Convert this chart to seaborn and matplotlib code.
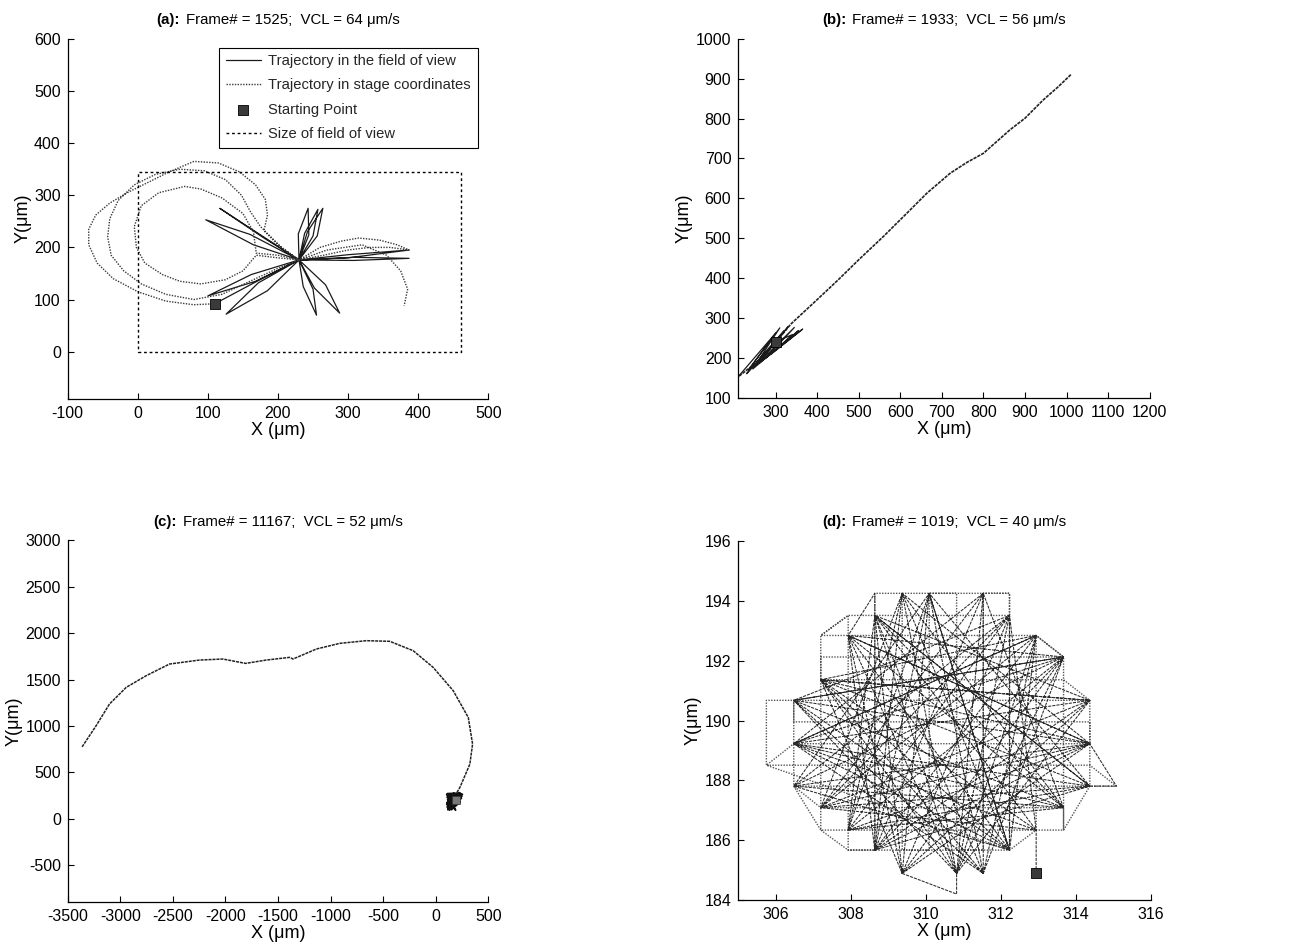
import numpy as np
import pandas as pd
import seaborn as sns
import matplotlib.pyplot as plt
from matplotlib.offsetbox import TextArea, HPacker, AnchoredOffsetbox

# ---------------- data ----------------
# (a) trajectory in the field of view (solid star of petals)
a_fov_x = [110, 170, 230, 165, 97, 160, 230, 180, 117, 166, 230, 244, 243, 229, 230,
           250, 257, 238, 230, 256, 264, 242, 230, 308, 387, 308, 230, 300, 387, 300,
           230, 252, 288, 268, 230, 236, 255, 250, 230, 185, 126, 172, 230, 168, 100, 162, 230]
a_fov_y = [92, 135, 176, 205, 253, 225, 176, 218, 275, 232, 176, 224, 275, 226, 176,
           222, 273, 227, 176, 222, 275, 230, 176, 175, 179, 181, 176, 186, 195, 180,
           176, 122, 74, 128, 176, 125, 70, 120, 176, 117, 72, 132, 176, 135, 107, 148, 176]

# (a) trajectory in stage coordinates (dotted loops)
a_stage_x = [110, 80, 40, 0, -35, -58, -70, -70, -60, -40, -15, 15, 45, 80, 115, 145, 168,
             182, 185, 180, 200, 230, 260, 290, 315, 345, 370, 387, 360, 330, 300, 265, 230,
             205, 175, 160, 148, 125, 95, 60, 25, -5, -28, -40, -43, -38, -20, 5, 40, 80,
             120, 160, 200, 230, 200, 169, 165, 150, 120, 90, 67, 30, 5, -5, -2, 10, 35, 60,
             90, 125, 150, 169, 200, 230, 270, 320, 355, 375, 385, 380]
a_stage_y = [92, 90, 97, 115, 140, 170, 205, 235, 262, 285, 305, 325, 345, 365, 362, 345, 320,
             292, 262, 232, 205, 176, 200, 212, 218, 214, 205, 195, 200, 200, 195, 185, 176,
             200, 240, 270, 300, 330, 347, 350, 340, 320, 290, 255, 220, 185, 155, 130, 110, 100,
             110, 135, 160, 176, 185, 189, 230, 265, 295, 312, 317, 305, 280, 240, 200, 170, 148, 135,
             130, 138, 155, 185, 180, 176, 195, 205, 185, 155, 120, 88]
a_start = (110, 92)
fov_w, fov_h = 460.8, 345.6

# (b)
b_stage_x = [212, 250, 290, 336, 400, 450, 500, 560, 616, 664, 720, 760, 800, 864, 900, 944, 980, 1012]
b_stage_y = [154, 185, 225, 284, 346, 395, 446, 505, 563, 613, 663, 690, 713, 772, 801, 847, 880, 912]
b_fov_x = [212, 300, 235, 310, 250, 330, 262, 345, 275, 365, 290, 340, 300, 230, 320, 245, 355, 260]
b_fov_y = [155, 262, 170, 275, 180, 278, 190, 276, 198, 272, 210, 258, 240, 160, 268, 172, 268, 186]
b_start = (300, 240)

# (c)
c_stage_x = [-3363, -3230, -3103, -2944, -2754, -2532, -2246, -2024, -1808, -1611, -1389, -1357,
             -1135, -913, -659, -437, -214, -24, 167, 310, 351, 325, 230, 183]
c_stage_y = [774, 1001, 1235, 1415, 1541, 1667, 1710, 1721, 1674, 1710, 1739, 1721,
             1829, 1890, 1919, 1912, 1811, 1631, 1379, 1091, 803, 587, 335, 245]
c_fov_x = [183, 110, 235, 108, 245, 115, 200, 108, 240, 118, 180, 112, 230, 125, 255, 118, 175, 140,
           105, 250, 112, 190, 104, 235, 150, 225, 110, 170, 245, 130, 190]
c_fov_y = [245, 270, 275, 230, 265, 95, 270, 170, 230, 105, 255, 130, 270, 100, 262, 250, 110, 265,
           150, 240, 210, 90, 260, 180, 95, 280, 120, 275, 220, 90, 205]
c_start = (190, 205)

# (d) rim points of the circular wandering and the order the chords visit them
d_rim_x = [310.09, 311.53, 312.23, 312.94, 313.67, 314.37, 314.37, 314.37, 313.67, 312.94, 312.23, 311.53,
           310.82, 309.37, 308.64, 307.93, 307.20, 306.48, 306.48, 306.48, 307.20, 307.93, 308.64, 309.37]
d_rim_y = [194.26, 194.26, 193.52, 192.85, 192.13, 190.68, 189.23, 187.81, 187.09, 186.34, 185.67, 184.89,
           184.89, 184.89, 185.67, 186.34, 187.09, 187.81, 189.23, 190.68, 191.37, 192.85, 193.52, 194.26]
d_order = [9, 18, 3, 12, 21, 6, 15, 0, 10, 19, 4, 13, 22, 7, 16, 1, 11, 20, 5, 14, 23, 8, 17, 2,
           9, 16, 23, 6, 13, 20, 3, 10, 17, 0, 7, 14, 21, 4, 11, 18, 1, 8, 15, 22, 5, 12, 19, 2,
           12, 22, 8, 18, 4, 14, 0, 10, 20, 6, 16, 2,
           13, 0, 11, 22, 9, 20, 7, 18, 5, 16, 3, 14, 1, 12, 23, 10, 21, 8, 19, 6, 17, 4, 15, 2,
           10, 18, 3, 11, 19, 4, 12, 20, 5, 13, 21, 6, 14, 22, 7, 15, 23]
d_start = (312.94, 184.89)
d_spike_x = [310.82, 315.08, 308.64]
d_spike_y = [184.2, 187.81, 194.26]

# (d) stage coordinates: rectilinear rows and columns on the 0.72 um grid
d_row_y = [194.26, 193.52, 192.85, 192.13, 191.37, 190.68, 189.96, 189.23, 188.51, 187.81, 187.09, 186.34, 185.67]
d_row_x0 = [309.37, 307.93, 307.20, 307.20, 307.20, 306.48, 306.48, 306.48, 305.75, 306.48, 307.20, 307.20, 307.93]
d_row_x1 = [312.23, 312.23, 312.94, 313.67, 313.67, 314.37, 314.37, 314.37, 314.37, 315.08, 313.67, 313.67, 312.23]
d_col_x = [305.75, 306.48, 307.20, 307.93, 308.64, 309.37, 310.09, 310.82, 311.53, 312.23, 312.94, 313.67, 314.37]
d_col_y0 = [188.51, 187.81, 186.34, 185.67, 185.67, 185.67, 185.67, 185.67, 185.67, 185.67, 186.34, 186.34, 187.81]
d_col_y1 = [190.68, 190.68, 192.85, 193.52, 194.26, 194.26, 194.26, 194.26, 194.26, 194.26, 192.85, 192.13, 190.68]

titles = ['(a):', '(b):', '(c):', '(d):']
frames = [1525, 1933, 11167, 1019]
vcl = [64, 56, 52, 40]

# ---------------- style ----------------
sns.set_theme(style='ticks')
plt.rcParams['font.family'] = ['Liberation Sans', 'DejaVu Sans']
plt.rcParams['axes.unicode_minus'] = False

fov_kw = dict(color='#1a1a1a', linewidth=0.9, sort=False, estimator=None)
stage_kw = dict(color='#3a3a3a', linewidth=1.0, linestyle=(0, (1, 1)), sort=False, estimator=None)
start_kw = dict(marker='s', s=55, color='#3a3a3a', edgecolor='black', linewidth=0.6, zorder=5)

fig = plt.figure(figsize=(13.02, 9.49), dpi=100)
axa = fig.add_axes([0.052, 0.580, 0.323, 0.379])
axb = fig.add_axes([0.567, 0.581, 0.316, 0.378])
axc = fig.add_axes([0.052, 0.0495, 0.323, 0.381])
axd = fig.add_axes([0.567, 0.0516, 0.317, 0.378])

# (a)
sns.lineplot(x=a_fov_x, y=a_fov_y, ax=axa, label='Trajectory in the field of view', **fov_kw)
sns.lineplot(x=a_stage_x, y=a_stage_y, ax=axa, label='Trajectory in stage coordinates', **stage_kw)
sns.scatterplot(x=[a_start[0]], y=[a_start[1]], ax=axa, label='Starting Point', **start_kw)
rect = pd.DataFrame({'x': [0, fov_w, fov_w, 0, 0], 'y': [0, 0, fov_h, fov_h, 0]})
sns.lineplot(data=rect, x='x', y='y', ax=axa, color='black', linewidth=1.0,
             linestyle=(0, (2, 2)), sort=False, estimator=None, label='Size of field of view')
axa.set_xlim(-100, 500)
axa.set_ylim(-90, 600)
axa.set_xticks(range(-100, 501, 100))
axa.set_yticks(range(0, 601, 100))
leg = axa.legend(loc='upper right', bbox_to_anchor=(0.975, 0.976), fontsize=10.6, frameon=True,
                 fancybox=False, edgecolor='black', framealpha=1, borderpad=0.45, labelspacing=0.7,
                 handlelength=2.4, handletextpad=0.5, borderaxespad=0)
leg.get_frame().set_linewidth(0.8)

# (b)
sns.lineplot(x=b_stage_x, y=b_stage_y, ax=axb, color='#222222', linewidth=1.2,
             linestyle=(0, (2, 0.6)), sort=False, estimator=None)
sns.lineplot(x=b_fov_x, y=b_fov_y, ax=axb, **fov_kw)
sns.scatterplot(x=[b_start[0]], y=[b_start[1]], ax=axb, **start_kw)
axb.set_xlim(210, 1200)
axb.set_ylim(100, 1000)
axb.set_xticks(range(300, 1201, 100))
axb.set_yticks(range(100, 1001, 100))

# (c)
sns.lineplot(x=c_stage_x, y=c_stage_y, ax=axc, color='#222222', linewidth=1.1,
             linestyle=(0, (2, 0.6)), sort=False, estimator=None)
sns.lineplot(x=c_fov_x, y=c_fov_y, ax=axc, color='#111111', linewidth=1.2, sort=False, estimator=None)
sns.scatterplot(x=[c_start[0]], y=[c_start[1]], ax=axc, marker='s', s=40, color='#777777',
                edgecolor='#333333', linewidth=0.5, zorder=5)
axc.set_xlim(-3500, 500)
axc.set_ylim(-900, 3000)
axc.set_xticks(range(-3500, 501, 500))
axc.set_yticks(range(-500, 3001, 500))

# (d) stage grid path (rows then columns, back and forth)
px, py = [], []
for i, (yy, x0, x1) in enumerate(zip(d_row_y, d_row_x0, d_row_x1)):
    if i % 2:
        x0, x1 = x1, x0
    px += [x0, x1]
    py += [yy, yy]
for i, (xx, y0, y1) in enumerate(zip(d_col_x, d_col_y0, d_col_y1)):
    if i % 2:
        y0, y1 = y1, y0
    px += [xx, xx]
    py += [y0, y1]
sns.lineplot(x=px, y=py, ax=axd, color='#555555', linewidth=1.0, linestyle=(0, (1, 1)),
             sort=False, estimator=None)
cx = [d_start[0]] + [d_rim_x[k] for k in d_order]
cy = [d_start[1]] + [d_rim_y[k] for k in d_order]
sns.lineplot(x=cx, y=cy, ax=axd, color='#2a2a2a', linewidth=0.75, linestyle=(0, (3, 1)),
             sort=False, estimator=None)
for sx, sy, k in zip(d_spike_x, d_spike_y, [13, 7, 22]):
    sns.lineplot(x=[d_rim_x[k], sx, d_rim_x[k - 1]], y=[d_rim_y[k], sy, d_rim_y[k - 1]], ax=axd,
                 color='#2a2a2a', linewidth=0.75, linestyle=(0, (3, 1)), sort=False, estimator=None)
sns.scatterplot(x=[d_start[0]], y=[d_start[1]], ax=axd, **start_kw)
axd.set_xlim(305, 316)
axd.set_ylim(184, 196)
axd.set_xticks(range(306, 317, 2))
axd.set_yticks(range(184, 197, 2))

for ax, t, f, v in zip([axa, axb, axc, axd], titles, frames, vcl):
    head = TextArea(t, textprops=dict(fontsize=10.8, fontweight='bold', color='black'))
    rest = TextArea(f'Frame# = {f};  VCL = {v} μm/s', textprops=dict(fontsize=10.8, color='black'))
    box = HPacker(children=[head, rest], align='baseline', pad=0, sep=4)
    ttl = AnchoredOffsetbox(loc='lower center', child=box, pad=0, borderpad=0, frameon=False,
                            bbox_to_anchor=(0.5, 1.033), bbox_transform=ax.transAxes)
    ax.add_artist(ttl)
    ax.set_xlabel('X (μm)', fontsize=13, labelpad=1, color='black')
    ax.set_ylabel('Y(μm)', fontsize=13, labelpad=2, color='black')
    ax.tick_params(direction='in', length=4, width=0.8, labelsize=11.5, pad=5, colors='black')
    sns.despine(ax=ax)
    for s in ['left', 'bottom']:
        ax.spines[s].set_linewidth(0.9)
        ax.spines[s].set_color('black')

fig.savefig('out.png', dpi=100, facecolor='white')
